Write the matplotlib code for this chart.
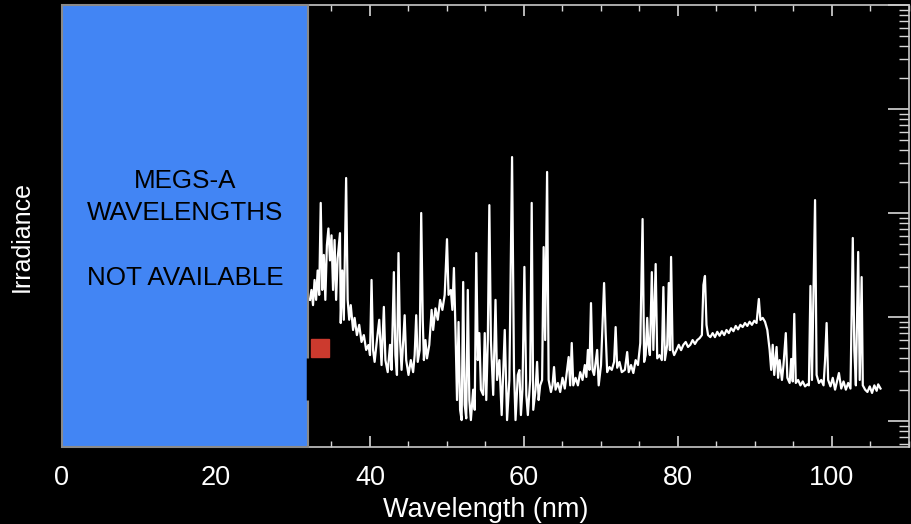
import matplotlib
matplotlib.use("Agg")
import matplotlib.pyplot as plt
from matplotlib.patches import Rectangle
from matplotlib.ticker import MultipleLocator, LogLocator, NullFormatter

plt.rcParams['font.family'] = ['Liberation Sans', 'DejaVu Sans']

# ---- data (wavelength in nm, relative irradiance) ----
wavelength = [
    32.2, 32.4, 32.6, 32.8, 33.0, 33.2, 33.4, 33.6, 33.8, 34.0, 34.2, 34.4, 34.6, 34.8,
    35.0, 35.2, 35.4, 35.6, 35.8, 36.1, 36.2, 36.4, 36.6, 36.9, 37.1, 37.3, 37.5, 37.8,
    38.0, 38.3, 38.6, 38.9, 39.2, 39.5, 39.8, 40.0, 40.2, 40.4, 40.6, 40.9, 41.2, 41.5,
    41.8, 42.0, 42.3, 42.6, 42.8, 43.1, 43.3, 43.5, 43.7, 43.9, 44.1, 44.5, 44.7, 45.0,
    45.3, 45.6, 45.8, 46.0, 46.2, 46.45, 46.65, 46.85, 47.0, 47.2, 47.4, 47.7, 48.0, 48.2,
    48.5, 48.8, 49.1, 49.4, 49.7, 50.0, 50.2, 50.5, 50.7, 50.9, 51.1, 51.3, 51.5, 51.7,
    51.9, 52.1, 52.3, 52.5, 52.7, 52.9, 53.1, 53.4, 53.6, 53.8, 54.0, 54.2, 54.4, 54.7,
    54.9, 55.1, 55.3, 55.5, 55.7, 56.0, 56.3, 56.5, 56.8, 57.1, 57.5, 57.8, 58.1, 58.45,
    58.7, 58.9, 59.2, 59.4, 59.6, 59.8, 60.05, 60.3, 60.5, 60.8, 61.0, 61.2, 61.5, 61.7,
    61.9, 62.1, 62.35, 62.55, 62.75, 63.0, 63.2, 63.5, 63.7, 63.9, 64.1, 64.4, 64.7, 65.0,
    65.3, 65.8, 66.0, 66.2, 66.4, 66.7, 67.0, 67.3, 67.6, 67.9, 68.1, 68.3, 68.5, 68.7,
    68.9, 69.1, 69.5, 69.7, 70.0, 70.4, 70.6, 70.8, 71.1, 71.4, 71.7, 71.9, 72.1, 72.4,
    72.7, 73.1, 73.4, 73.6, 73.9, 74.2, 74.5, 74.8, 75.1, 75.4, 75.6, 75.8, 76.0, 76.15,
    76.35, 76.6, 76.8, 77.1, 77.3, 77.6, 77.9, 78.1, 78.3, 78.6, 78.8, 78.95, 79.1, 79.3,
    79.5, 79.8, 80.1, 80.4, 80.7, 81.0, 81.3, 81.6, 81.9, 82.2, 82.5, 82.8, 83.1, 83.3,
    83.5, 83.7, 83.9, 84.2, 84.5, 84.8, 85.1, 85.4, 85.7, 86.0, 86.3, 86.6, 86.9, 87.2,
    87.5, 87.8, 88.1, 88.4, 88.7, 89.0, 89.3, 89.6, 89.9, 90.2, 90.5, 90.7, 91.0, 91.3,
    91.6, 91.9, 92.1, 92.3, 92.5, 92.8, 93.0, 93.2, 93.5, 93.7, 94.0, 94.2, 94.5, 94.7,
    94.9, 95.1, 95.3, 95.6, 95.9, 96.2, 96.5, 96.8, 97.0, 97.2, 97.4, 97.8, 98.0, 98.3,
    98.6, 98.9, 99.1, 99.3, 99.5, 99.8, 100.1, 100.4, 100.7, 100.9, 101.2, 101.5, 101.8, 102.1,
    102.4, 102.7, 102.9, 103.1, 103.4, 103.6, 103.85, 104.0, 104.3, 104.6, 104.9, 105.2, 105.5, 105.8,
    106.0, 106.3,
]
irradiance = [
    14.6, 18.2, 13.0, 22.7, 14.6, 28.0, 16.3, 125.0, 18.2, 39.5, 14.6, 49.0, 71.0, 35.0,
    61.0, 18.2, 55.0, 14.6, 36.7, 64.0, 8.75, 28.0, 9.4, 217.0, 14.6, 9.4, 13.0, 7.5,
    9.8, 6.7, 8.4, 5.75, 6.7, 4.82, 5.38, 4.3, 22.7, 4.8, 3.7, 6.0, 9.4, 3.45,
    12.5, 3.85, 2.95, 5.4, 3.1, 27.0, 4.3, 2.77, 41.2, 6.0, 3.1, 10.4, 3.85, 2.77,
    3.85, 2.95, 4.3, 10.4, 3.7, 4.8, 100.0, 9.4, 3.85, 6.0, 4.0, 5.4, 11.7, 7.5,
    12.1, 9.4, 14.6, 11.7, 16.3, 56.0, 16.3, 18.2, 11.7, 29.6, 7.5, 1.59, 8.95, 1.28,
    1.02, 21.7, 1.43, 1.06, 18.2, 1.59, 1.02, 2.0, 1.28, 41.2, 3.85, 7.0, 2.0, 1.78,
    7.0, 1.59, 6.0, 119.0, 6.0, 1.78, 14.6, 2.48, 3.85, 1.14, 7.5, 1.02, 2.48, 345.0,
    3.1, 1.02, 2.77, 3.09, 1.14, 2.0, 30.3, 1.78, 1.14, 2.48, 125.0, 1.28, 2.0, 3.7,
    1.59, 2.2, 2.48, 47.0, 6.0, 248.0, 2.48, 1.9, 2.2, 3.3, 2.0, 2.32, 1.9, 2.6,
    2.05, 4.12, 2.2, 5.62, 2.2, 2.6, 2.2, 2.95, 2.48, 3.45, 2.65, 4.82, 3.1, 13.6,
    3.1, 2.77, 4.82, 2.2, 3.45, 21.2, 7.17, 2.95, 3.3, 3.1, 3.7, 8.0, 3.25, 3.7,
    2.95, 3.1, 4.6, 2.95, 3.45, 2.89, 3.85, 3.45, 5.6, 87.5, 3.7, 4.3, 9.8, 5.4,
    4.3, 27.0, 4.82, 32.3, 4.0, 4.3, 3.85, 19.4, 3.85, 5.4, 21.2, 4.8, 37.8, 4.82,
    4.3, 4.8, 5.4, 4.8, 5.4, 5.75, 5.15, 5.4, 6.0, 5.5, 6.0, 6.25, 6.7, 20.3,
    24.8, 8.4, 6.7, 6.4, 7.0, 6.4, 7.2, 6.6, 7.3, 6.7, 7.5, 7.0, 7.8, 7.3,
    8.2, 7.6, 8.4, 8.0, 8.75, 8.2, 9.0, 8.4, 9.2, 8.75, 14.9, 9.36, 9.8, 9.0,
    7.5, 4.82, 3.1, 5.4, 2.77, 5.15, 2.6, 3.85, 2.48, 3.45, 7.0, 2.6, 2.32, 3.95,
    2.4, 10.7, 2.32, 2.48, 2.2, 2.4, 2.15, 2.25, 2.2, 19.9, 2.48, 133.0, 2.77, 2.32,
    2.48, 2.2, 3.85, 8.75, 2.48, 2.15, 2.6, 2.0, 2.48, 2.89, 2.05, 2.4, 2.0, 2.32,
    2.05, 57.5, 4.8, 2.2, 42.2, 2.48, 24.2, 2.2, 2.0, 1.9, 2.15, 1.86, 2.2, 1.95,
    2.25, 2.05,
]

# unavailable band and reference marker
megs_a_range = [0.0, 32.0]
marker_wl = [33.5]
marker_irr = [5.0]
notch_wl = [32.0, 32.0]
notch_irr = [1.6, 4.0]

x_ticks = [0, 20, 40, 60, 80, 100]
x_limits = [0, 110]
y_limits = [0.562, 1.0e4]

box_text = "MEGS-A\nWAVELENGTHS\n\nNOT AVAILABLE"

# ---- figure ----
fig = plt.figure(figsize=(9.12, 5.24), dpi=100, facecolor='black')
ax = fig.add_axes([62 / 912, 1 - 447 / 524, (909 - 62) / 912, (447 - 5) / 524])
ax.set_facecolor('black')

ax.set_yscale('log')
ax.set_xlim(*x_limits)
ax.set_ylim(*y_limits)

ax.plot(wavelength, irradiance, color='white', lw=1.6, zorder=3)

rect = Rectangle((megs_a_range[0], y_limits[0]), megs_a_range[1] - megs_a_range[0],
                 y_limits[1] - y_limits[0], facecolor='#4285F4', edgecolor='#8a8a8a',
                 lw=1.5, zorder=4, clip_on=False)
ax.add_patch(rect)
ax.plot(notch_wl, notch_irr, color='black', lw=2.5, zorder=5, solid_capstyle='butt')
ax.plot(marker_wl, marker_irr, marker='s', color='#CC3A2E', markersize=13,
        linestyle='none', zorder=5)

ax.text(sum(megs_a_range) / 2, 10 ** 1.84, box_text, ha='center', va='center',
        fontsize=18.7, color='black', linespacing=1.45, zorder=6)

# axes styling
for side in ['top', 'right', 'bottom', 'left']:
    ax.spines[side].set_color('#c8c8c8')
    ax.spines[side].set_linewidth(1.2)

ax.set_xticks(x_ticks)
ax.xaxis.set_minor_locator(MultipleLocator(5))
ax.tick_params(axis='x', which='both', direction='in', colors='#d8d8d8',
               top=True, bottom=True, labelsize=19.5, labelcolor='white', pad=13)
ax.tick_params(axis='x', which='major', length=8, width=1.2)
ax.tick_params(axis='x', which='minor', length=4, width=1.0)

ax.yaxis.set_major_locator(LogLocator(base=10, numticks=10))
ax.yaxis.set_minor_locator(LogLocator(base=10, subs=range(2, 10), numticks=20))
ax.yaxis.set_major_formatter(NullFormatter())
ax.yaxis.set_minor_formatter(NullFormatter())
ax.tick_params(axis='y', which='both', direction='in', colors='#d8d8d8',
               left=False, right=True, labelleft=False)
ax.tick_params(axis='y', which='major', length=15, width=1.2)
ax.tick_params(axis='y', which='minor', length=7, width=1.0)

ax.set_xlabel('Wavelength (nm)', color='white', fontsize=19.5, labelpad=4)
fig.text(22 / 912, 1 - 236 / 524, 'Irradiance', rotation=90, color='white',
         fontsize=18, ha='center', va='center')

fig.savefig('out.png', dpi=100, facecolor='black')
